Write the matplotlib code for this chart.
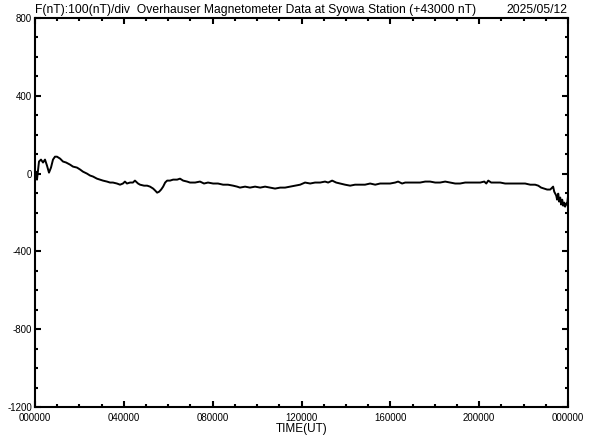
import matplotlib
matplotlib.use("Agg")
import matplotlib.pyplot as plt
from matplotlib.ticker import MultipleLocator, FixedLocator

plt.rcParams['font.family'] = ['Liberation Sans', 'DejaVu Sans']

# Time in hours UT, field deviation in nT (relative to 43000 nT)
time_h = [0.00, 0.045, 0.09, 0.18, 0.27, 0.36, 0.45, 0.54, 0.63, 0.72, 0.81, 0.90, 0.99,
          1.13, 1.26, 1.40, 1.58, 1.71, 1.89, 2.03, 2.16, 2.34, 2.48, 2.61, 2.79, 2.93,
          3.06, 3.24, 3.38, 3.51, 3.69, 3.83, 3.96, 4.05, 4.14, 4.28, 4.41, 4.50, 4.64,
          4.73, 4.91, 5.05, 5.18, 5.32, 5.41, 5.50, 5.59, 5.68, 5.77, 5.86, 5.95, 6.08,
          6.22, 6.40, 6.53, 6.67, 6.85, 6.98, 7.21, 7.43, 7.61, 7.79, 8.02, 8.24, 8.47,
          8.69, 8.92, 9.10, 9.23, 9.46, 9.68, 9.91, 10.14, 10.36, 10.59, 10.81, 11.04,
          11.26, 11.49, 11.71, 11.94, 12.16, 12.39, 12.61, 12.84, 13.06, 13.20, 13.38,
          13.56, 13.74, 13.96, 14.19, 14.41, 14.64, 14.86, 15.09, 15.32, 15.54, 15.77,
          15.99, 16.22, 16.35, 16.53, 16.67, 16.89, 17.12, 17.34, 17.57, 17.79, 18.02,
          18.24, 18.47, 18.69, 18.92, 19.14, 19.37, 19.59, 19.82, 20.05, 20.23, 20.32,
          20.41, 20.54, 20.72, 20.95, 21.17, 21.40, 21.62, 21.85, 22.07, 22.30, 22.52,
          22.66, 22.79, 22.93, 23.06, 23.20, 23.29, 23.33, 23.38, 23.47, 23.51, 23.56,
          23.60, 23.65, 23.69, 23.74, 23.78, 23.83, 23.87, 23.92, 23.96, 24.00]
field_nT = [-21, 10, -31, 62, 72, 57, 72, 41, 5, 31, 72, 87, 87,
            77, 62, 57, 46, 36, 31, 21, 10, 0, -10, -15, -26, -31,
            -36, -41, -46, -46, -51, -57, -51, -41, -51, -46, -46, -36, -51,
            -57, -62, -62, -67, -77, -87, -98, -93, -82, -67, -46, -36, -36,
            -31, -31, -26, -36, -41, -46, -46, -41, -51, -46, -51, -51, -57,
            -57, -62, -67, -72, -67, -72, -67, -72, -67, -72, -77, -72,
            -72, -67, -62, -57, -46, -51, -46, -46, -41, -46, -36,
            -46, -51, -57, -62, -57, -57, -57, -51, -57, -51, -51,
            -51, -46, -41, -51, -46, -46, -46, -46, -41, -41, -46,
            -46, -41, -46, -51, -51, -46, -46, -46, -46, -41, -51,
            -36, -46, -46, -46, -51, -51, -51, -51, -51, -57, -57,
            -62, -72, -77, -82, -82, -72, -67, -93, -113, -134, -103,
            -144, -123, -159, -134, -165, -149, -170, -154, -159, -118]

xtick_pos = [0, 4, 8, 12, 16, 20, 24]
xtick_labels = ["000000", "040000", "080000", "120000", "160000", "200000", "000000"]
ytick_pos = [800, 400, 0, -400, -800, -1200]
ytick_labels = ["800", "400", "0", "-400", "-800", "-1200"]

title_left = "F(nT):100(nT)/div  Overhauser Magnetometer Data at Syowa Station (+43000 nT)"
title_right = "2025/05/12"

fig = plt.figure(figsize=(5.92, 4.40), dpi=100)
ax = fig.add_axes([35/592, 1 - 407/440, (568 - 35)/592, (407 - 18)/440])

ax.plot(time_h, field_nT, color='black', linewidth=1.4)

ax.set_xlim(0, 24)
ax.set_ylim(-1200, 800)

ax.xaxis.set_major_locator(FixedLocator(xtick_pos))
ax.set_xticklabels(xtick_labels)
ax.xaxis.set_minor_locator(MultipleLocator(1))
ax.yaxis.set_major_locator(FixedLocator(ytick_pos))
ax.set_yticklabels(ytick_labels)
ax.yaxis.set_minor_locator(MultipleLocator(100))

ax.tick_params(which='both', direction='in', top=True, right=True, width=1.5,
               labelsize=7)
ax.tick_params(axis='y', pad=2)
ax.tick_params(axis='x', pad=4)
ax.tick_params(which='major', length=4)
ax.tick_params(which='minor', length=2.5)

for s in ax.spines.values():
    s.set_linewidth(1.5)

ax.set_xlabel("TIME(UT)", fontsize=8.5, labelpad=0)

fig.text(35/592, 1 - 13/440, title_left, fontsize=8.7, ha='left', va='baseline')
fig.text(567/592, 1 - 13/440, title_right, fontsize=8.7, ha='right', va='baseline')

fig.savefig("out.png", dpi=100, facecolor='white')
